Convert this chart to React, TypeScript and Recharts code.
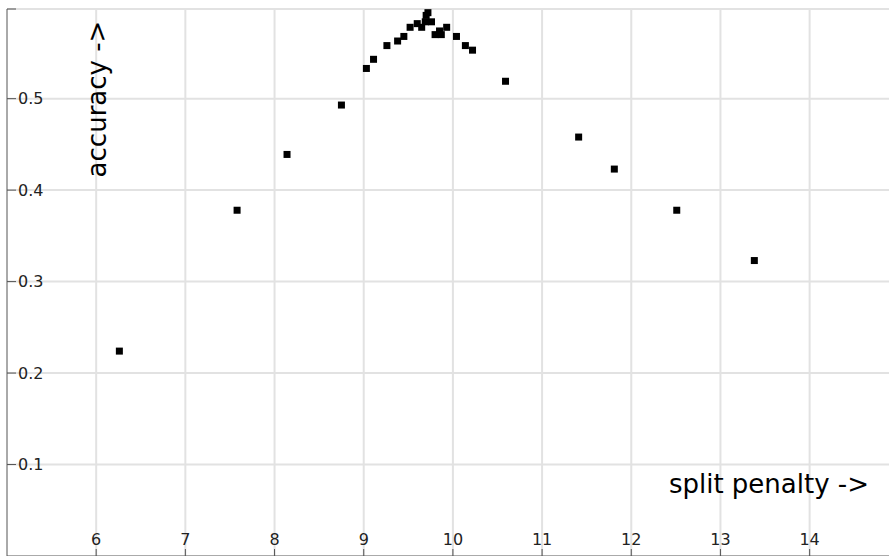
import { ScatterChart, Scatter, XAxis, YAxis, CartesianGrid, Label } from "recharts";

const splitPenalty = [
  6.26, 7.58, 8.14, 8.75, 9.03, 9.11, 9.26, 9.38, 9.45, 9.52, 9.6, 9.65, 9.69,
  9.7, 9.72, 9.76, 9.8, 9.85, 9.87, 9.93, 10.04, 10.14, 10.22, 10.59, 11.41,
  11.81, 12.51, 13.38,
];
const accuracy = [
  0.224, 0.378, 0.439, 0.493, 0.533, 0.543, 0.558, 0.563, 0.568, 0.578, 0.582,
  0.578, 0.584, 0.591, 0.594, 0.584, 0.57, 0.574, 0.57, 0.578, 0.568, 0.558,
  0.553, 0.519, 0.458, 0.423, 0.378, 0.323,
];
const xTicks = [6, 7, 8, 9, 10, 11, 12, 13, 14];
const yTicks = [0.1, 0.2, 0.3, 0.4, 0.5, 0.598];

const points = splitPenalty.map((x, i) => ({ x, y: accuracy[i] }));

const FONT = "'DejaVu Sans', Verdana, sans-serif";

const SquareDot = (props: any) => {
  const { cx, cy } = props;
  if (cx == null || cy == null) return null;
  return <rect x={cx - 3.5} y={cy - 3.5} width={7} height={7} fill="#000" />;
};

export default function App() {
  return (
    <div style={{ position: "absolute", left: 0, top: 0 }}>
      <ScatterChart
        width={889}
        height={556}
        margin={{ top: 9, right: 0, bottom: 0, left: 7 }}
        style={{ fontFamily: FONT }}
      >
        <CartesianGrid stroke="#e2e2e2" strokeWidth={2} horizontalValues={yTicks} verticalValues={xTicks} />
        <XAxis
          type="number"
          dataKey="x"
          domain={[5, 14.89]}
          ticks={xTicks}
          allowDataOverflow
          mirror
          height={1}
          tickSize={7}
          tickMargin={4}
          stroke="#555"
          tick={{ fill: "#222", fontSize: 16, fontFamily: FONT }}
        >
          <Label
            content={() => (
              <text x={869} y={493} textAnchor="end" fontSize={26} fill="#000" fontFamily={FONT}>
                split penalty -&gt;
              </text>
            )}
          />
        </XAxis>
        <YAxis
          type="number"
          dataKey="y"
          domain={[0, 0.598]}
          ticks={yTicks}
          allowDataOverflow
          mirror
          width={1}
          tickSize={9}
          tickMargin={2}
          stroke="#555"
          tickFormatter={(v: number) => (v > 0.55 ? "" : String(v))}
          tick={{ fill: "#222", fontSize: 16, fontFamily: FONT }}
        >
          <Label
            content={() => (
              <text
                x={97}
                y={99}
                transform="rotate(-90 97 99)"
                textAnchor="middle"
                dominantBaseline="central"
                fontSize={26}
                fill="#000"
                fontFamily={FONT}
              >
                accuracy -&gt;
              </text>
            )}
          />
        </YAxis>
        <Scatter data={points} shape={SquareDot} isAnimationActive={false} />
      </ScatterChart>
    </div>
  );
}
